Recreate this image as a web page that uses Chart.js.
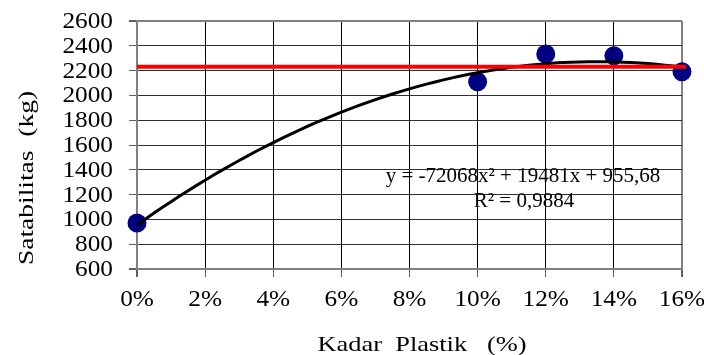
<!DOCTYPE html>
<html>
<head>
<meta charset="utf-8">
<script src="https://cdn.jsdelivr.net/npm/chart.js@4/dist/chart.umd.min.js"></script>
<style>
  html, body { margin: 0; padding: 0; background: #fff; }
  canvas { display: block; }
</style>
</head>
<body>
<canvas id="c" width="704" height="355"></canvas>
<script>
// Plastic content (fraction) and measured stability (kg)
const kadarPlastik = [0.00, 0.10, 0.12, 0.14, 0.16];
const stabilitas   = [971, 2110, 2334, 2320, 2191];

// Reference level (kg)
const batasStabilitas = 2232;

// Axis ticks
const xTicks = [0, 0.02, 0.04, 0.06, 0.08, 0.10, 0.12, 0.14, 0.16];
const yTicks = [600, 800, 1000, 1200, 1400, 1600, 1800, 2000, 2200, 2400, 2600];

// Polynomial trendline coefficients: y = a*x^2 + b*x + c
const trendCoef = [-72068, 19481, 955.68];
const trendLabel = ['y = -72068x\u00B2 + 19481x + 955,68', 'R\u00B2 = 0,9884'];

// Axis titles
const yTitle = 'Satabilitas  (kg)';
const xTitle = 'Kadar  Plastik   (%)';

const FONT = '"Liberation Serif"';

// Trendline drawn from the stated equation across the x range
const trendPts = [];
for (let i = 0; i <= 64; i++) {
  const x = 0.16 * i / 64;
  trendPts.push({ x: x, y: trendCoef[0] * x * x + trendCoef[1] * x + trendCoef[2] });
}

// Draw text horizontally widened by factor sx around its anchor
function wideText(ctx, text, x, y, sx, align) {
  ctx.save();
  ctx.translate(x, y);
  ctx.scale(sx, 1);
  ctx.textAlign = align;
  ctx.fillText(text, 0, 0);
  ctx.restore();
}

const textPlugin = {
  id: 'textPlugin',
  afterDraw(chart) {
    const ctx = chart.ctx;
    const xs = chart.scales.x, ys = chart.scales.y;
    ctx.save();
    ctx.fillStyle = '#000';
    ctx.textBaseline = 'middle';

    // tick labels
    ctx.font = '23px ' + FONT;
    yTicks.forEach(v => wideText(ctx, String(v), 113, ys.getPixelForValue(v) + 1, 1.1, 'right'));
    xTicks.forEach(v => wideText(ctx, Math.round(v * 100) + '%', xs.getPixelForValue(v), 300, 1.1, 'center'));

    // trendline equation
    ctx.font = '21px ' + FONT;
    wideText(ctx, trendLabel[0], 523, 176, 1.0, 'center');
    wideText(ctx, trendLabel[1], 524, 201, 1.0, 'center');

    // axis titles
    ctx.font = '22px ' + FONT;
    wideText(ctx, xTitle, 422, 345, 1.2, 'center');
    ctx.translate(27, 178);
    ctx.rotate(-Math.PI / 2);
    wideText(ctx, yTitle, 0, 0, 1.25, 'center');
    ctx.restore();
  }
};

new Chart(document.getElementById('c'), {
  type: 'scatter',
  data: {
    datasets: [
      {
        label: 'Batas',
        type: 'line',
        data: [{ x: 0, y: batasStabilitas }, { x: 0.1612, y: batasStabilitas }],
        borderColor: '#ff0000',
        borderWidth: 4,
        pointRadius: 0,
        clip: false,
        order: 0
      },
      {
        label: 'Trend',
        type: 'line',
        data: trendPts,
        borderColor: '#000',
        borderWidth: 3,
        pointRadius: 0,
        tension: 0,
        clip: false,
        order: 1
      },
      {
        label: 'Stabilitas',
        data: kadarPlastik.map((x, i) => ({ x: x, y: stabilitas[i] })),
        backgroundColor: '#000080',
        borderColor: '#000080',
        borderWidth: 0,
        pointRadius: 9.5,
        pointHoverRadius: 9.5,
        clip: false,
        order: 2
      }
    ]
  },
  options: {
    responsive: false,
    animation: false,
    events: [],
    layout: { padding: { top: 21, right: 22, left: 0, bottom: 0 } },
    plugins: { legend: { display: false }, tooltip: { enabled: false } },
    scales: {
      x: {
        type: 'linear',
        min: 0, max: 0.16,
        afterFit(s) { s.height = 355 - 269; },
        afterBuildTicks(s) { s.ticks = xTicks.map(v => ({ value: v })); },
        ticks: { display: false },
        grid: {
          color: ctx => (ctx.index === 0 || ctx.index === 8) ? '#808080' : '#000',
          lineWidth: ctx => (ctx.index === 0 || ctx.index === 8) ? 2 : 1,
          tickLength: 8,
          tickColor: '#606060'
        },
        border: { color: '#808080', width: 2 }
      },
      y: {
        min: 600, max: 2600,
        afterFit(s) { s.width = 137; },
        afterBuildTicks(s) { s.ticks = yTicks.map(v => ({ value: v })); },
        ticks: { display: false },
        grid: {
          color: ctx => (ctx.index === 0 || ctx.index === 10) ? '#808080' : '#303030',
          lineWidth: ctx => (ctx.index === 0 || ctx.index === 10) ? 2 : 1,
          tickLength: 8,
          tickColor: '#606060'
        },
        border: { color: '#808080', width: 2 }
      }
    }
  },
  plugins: [textPlugin]
});
</script>
</body>
</html>
